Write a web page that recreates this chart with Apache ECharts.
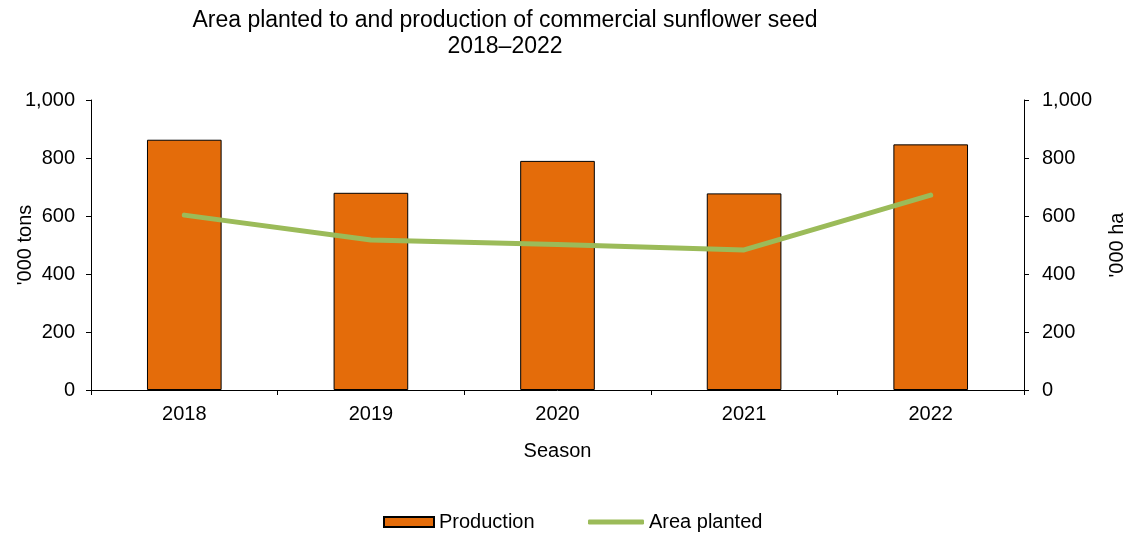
<!DOCTYPE html>
<html>
<head>
<meta charset="utf-8">
<script src="https://cdn.jsdelivr.net/npm/echarts@6/dist/echarts.min.js"></script>
<style>
  html, body { margin: 0; padding: 0; background: #fff; }
  #chart { width: 1130px; height: 533px; }
</style>
</head>
<body>
<div id="chart"></div>
<script>
// Seasons on the category axis
const seasons = ['2018', '2019', '2020', '2021', '2022'];
// Production, '000 tons (left axis)
const production = [863, 680, 790, 678, 847];
// Area planted, '000 ha (right axis)
const areaPlanted = [603, 517, 502, 483, 672];
// Shared tick values for both value axes
const axisMin = 0, axisMax = 1000, axisStep = 200;

const font = 'Liberation Sans, Arial, sans-serif';
const chart = echarts.init(document.getElementById('chart'));

const valueAxis = (name, pos, labelMargin, nameGap) => ({
  type: 'value', position: pos, min: axisMin, max: axisMax, interval: axisStep,
  name: name, nameLocation: 'middle', nameGap: nameGap, nameRotate: 90,
  nameMoveOverlap: false,
  nameTextStyle: { fontFamily: font, fontSize: 20, color: '#000' },
  axisLine: { show: true, lineStyle: { color: '#000', width: 1 } },
  axisTick: { show: true, inside: false, length: 5, lineStyle: { color: '#000' } },
  axisLabel: {
    margin: labelMargin, fontFamily: font, fontSize: 20, color: '#000',
    formatter: v => v.toLocaleString('en-US')
  },
  splitLine: { show: false }
});

chart.setOption({
  animation: false,
  backgroundColor: '#fff',
  title: {
    text: 'Area planted to and production of commercial sunflower seed\n2018–2022',
    left: 500, top: 3, textAlign: 'center',
    textStyle: { fontFamily: font, fontSize: 23, fontWeight: 'normal', color: '#000', lineHeight: 26 }
  },
  grid: { left: 91, right: 106, top: 100, bottom: 143, containLabel: false, outerBoundsMode: 'none' },
  legend: [
    {
      data: [{ name: 'Production', icon: 'rect' }],
      left: 383, top: 512, padding: 0, itemWidth: 50, itemHeight: 10, itemGap: 6,
      textStyle: { fontFamily: font, fontSize: 20, color: '#000', padding: [0, 0, 0, 0] }
    },
    {
      data: [{ name: 'Area planted', icon: 'roundRect' }],
      left: 588, top: 512, padding: 0, itemWidth: 56, itemHeight: 5,
      itemStyle: { color: '#9BBB59', borderWidth: 0 },
      textStyle: { fontFamily: font, fontSize: 20, color: '#000' }
    }
  ],
  xAxis: {
    type: 'category', data: seasons, boundaryGap: true,
    name: 'Season', nameLocation: 'middle', nameGap: 51, nameMoveOverlap: false,
    nameTextStyle: { fontFamily: font, fontSize: 20, color: '#000' },
    axisLine: { show: true, lineStyle: { color: '#000', width: 1 } },
    axisTick: { show: true, length: 5, alignWithLabel: false, lineStyle: { color: '#000' } },
    axisLabel: { margin: 14, fontFamily: font, fontSize: 20, color: '#000' }
  },
  yAxis: [
    valueAxis("'000 tons", 'left', 16, 56),
    valueAxis("'000 ha", 'right', 18, 83)
  ],
  series: [
    {
      name: 'Production', type: 'bar', yAxisIndex: 0, data: production,
      barWidth: '40%',
      itemStyle: { color: '#E46C0A', borderColor: '#000', borderWidth: 1 }
    },
    {
      name: 'Area planted', type: 'line', yAxisIndex: 1, data: areaPlanted,
      symbol: 'none', smooth: false,
      lineStyle: { color: '#9BBB59', width: 5, cap: 'round', join: 'round' },
      itemStyle: { color: '#9BBB59' }
    }
  ]
});
</script>
</body>
</html>
